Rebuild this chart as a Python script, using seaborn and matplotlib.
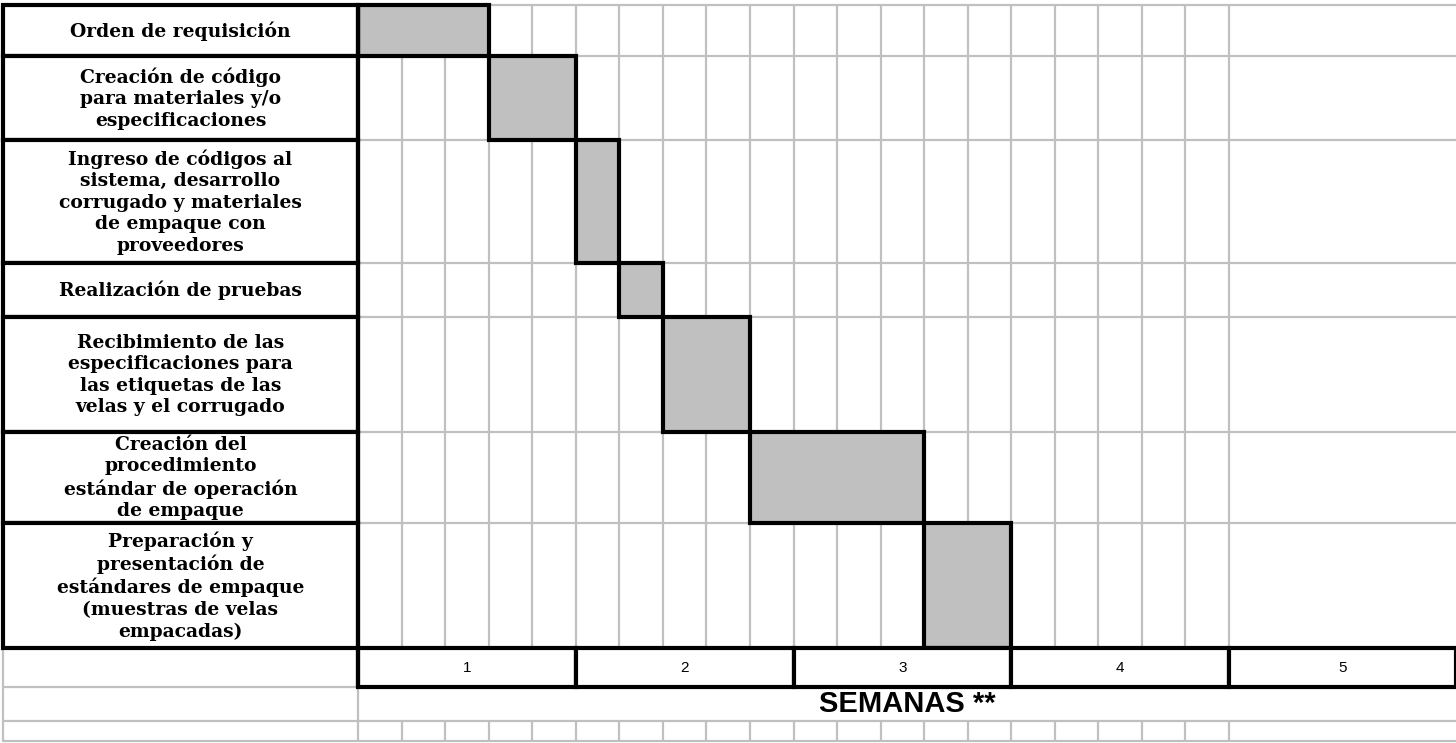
import matplotlib
matplotlib.use("Agg")
import matplotlib.pyplot as plt
import seaborn as sns
import pandas as pd

# task data (start / length in working days, 5 days per week)
tasks = ["Orden de requisición",
         "Creación de código\npara materiales y/o\nespecificaciones",
         "Ingreso de códigos al\nsistema, desarrollo\ncorrugado y materiales\nde empaque con\nproveedores",
         "Realización de pruebas",
         "Recibimiento de las\nespecificaciones para\nlas etiquetas de las\nvelas y el corrugado",
         "Creación del\nprocedimiento\nestándar de operación\nde empaque",
         "Preparación y\npresentación de\nestándares de empaque\n(muestras de velas\nempacadas)"]
start = [0, 3, 5, 6, 7, 9, 13]
dias = [3, 2, 1, 1, 2, 4, 2]
semanas = ["1", "2", "3", "4", "5"]
xlabel = "SEMANAS **"

df = pd.DataFrame({"tarea": tasks, "inicio": start, "dias": dias})

# layout (pixels / day units)
px_day = 43.55
x_left = -358 / px_day
x_right = (1456 - 358) / px_day
lab_left = x_left + 3 / px_day
row_h = [51, 84, 123, 54, 115, 91, 125]
foot_h = [39, 34, 20]
top = 4.5

edges = [top]
for h in row_h:
    edges.append(edges[-1] + h)
centers = [(edges[i] + edges[i + 1]) / 2 for i in range(len(row_h))]
f0 = edges[-1]
f1 = f0 + foot_h[0]
f2 = f1 + foot_h[1]
f3 = f2 + foot_h[2]

sns.set_theme(style="white")
plt.rcParams["text.color"] = "black"
gray = "#c0c0c0"

fig = plt.figure(figsize=(14.56, 7.43), dpi=100)
ax = fig.add_axes([0, 0, 1, 1])
ax.set_xlim(x_left, x_right)
ax.set_ylim(743, 0)
ax.axis("off")

# grid lines
n_days = 5 * (len(semanas) - 1)
for d in range(1, n_days + 1):
    ax.plot([d, d], [top, f0], color=gray, lw=1.6, zorder=1)
    ax.plot([d, d], [f2, f3], color=gray, lw=1.6, zorder=1)
for y in edges:
    ax.plot([0, x_right], [y, y], color=gray, lw=1.6, zorder=1)
for y in [f1, f2, f3]:
    ax.plot([lab_left, x_right], [y, y], color=gray, lw=1.6, zorder=1)
ax.plot([lab_left, lab_left], [f0, f3], color=gray, lw=1.6, zorder=1)
ax.plot([0, 0], [f1, f3], color=gray, lw=1.6, zorder=1)
ax.plot([0, 0], [top, f1], color="black", lw=3, zorder=4)

# task bars
ax.barh(centers, df["dias"], left=df["inicio"], height=row_h,
        color=gray, edgecolor="black", linewidth=3, zorder=3)

# label cells
ax.barh(centers, -lab_left, left=lab_left, height=row_h,
        color="white", edgecolor="black", linewidth=3, zorder=3)
for c, t in zip(centers, df["tarea"]):
    ax.text(lab_left / 2, c + 1, t, ha="center", va="center", fontsize=13.5,
            fontweight="bold", family="DejaVu Serif", linespacing=1.25,
            color="black", zorder=5)

# week cells
w_left = [5 * i for i in range(len(semanas))]
w_width = [5] * (len(semanas) - 1) + [x_right - 5 * (len(semanas) - 1)]
ax.barh([(f0 + f1) / 2] * len(semanas), w_width, left=w_left,
        height=foot_h[0], color="white", edgecolor="black", linewidth=3,
        zorder=3)
for l, w, s in zip(w_left, w_width, semanas):
    ax.text(l + w / 2, (f0 + f1) / 2 + 1, s, ha="center", va="center",
            fontsize=11, family="Liberation Sans", color="black", zorder=5)

ax.text(x_right / 2, (f1 + f2) / 2 + 1, xlabel, ha="center", va="center",
        fontsize=21, fontweight="bold", family="Liberation Sans",
        color="black", zorder=5)

fig.savefig("out.png", dpi=100)
